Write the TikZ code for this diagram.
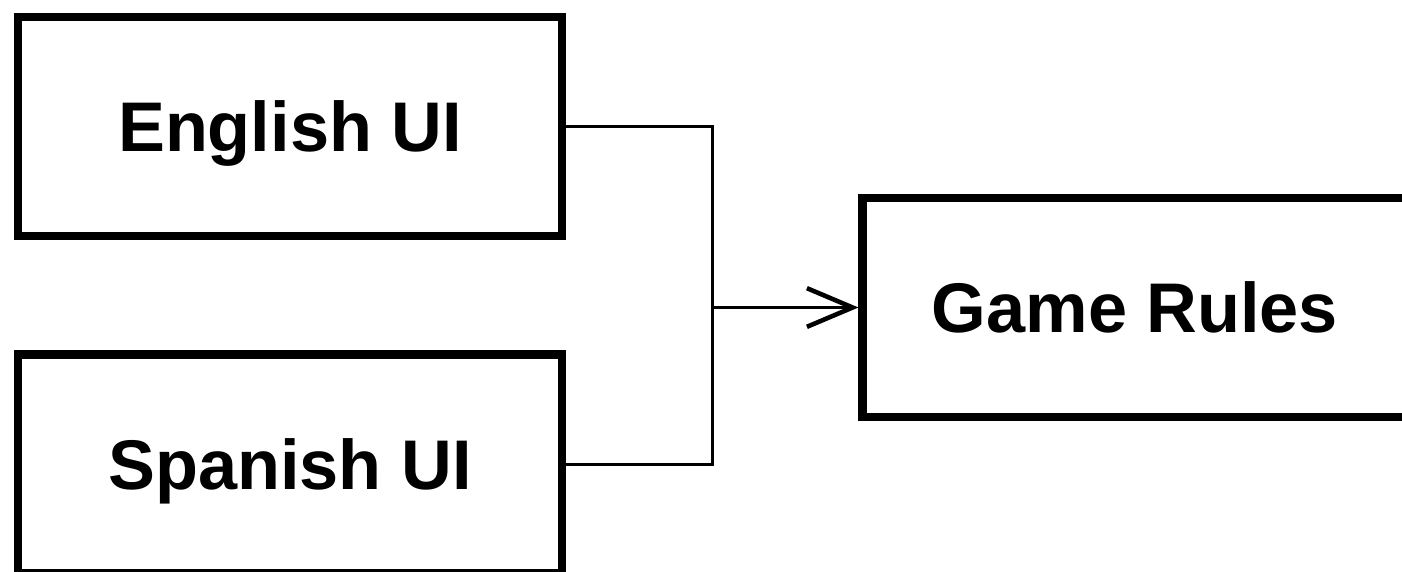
\documentclass[tikz,border=0pt]{standalone}
\usepackage{fontspec}
\setmainfont{Liberation Sans}
\usepackage{tikz}
\usetikzlibrary{arrows.meta,positioning,calc}
\tikzstyle{uibox}=[rectangle,minimum width=5.44cm,minimum height=2.19cm,
  text centered,draw=black,line width=2.55pt,fill=white,text depth=0pt,
  font=\fontsize{20}{24}\selectfont\bfseries]
\tikzstyle{link}=[line width=1.1pt,color=black]
\tikzstyle{arrow}=[-{Straight Barb[length=13pt,width=11pt,line width=1.3pt]},line width=1.1pt,color=black]

\begin{document}
\begin{tikzpicture}

  % Cadre
  \useasboundingbox (-2.90,1.265) rectangle (11.12,-4.445);
  \clip (-2.90,1.265) rectangle (11.12,-4.445);

  % Interfaces
  \node[uibox] (english) {English UI};
  \node[uibox, below=1.10cm of english] (spanish) {Spanish UI};

  % Regles
  \node[uibox, right=2.92cm of english, yshift=-1.81cm] (rules) {Game Rules};

  % Liens
  \coordinate (bend) at ($(english.east)!0.5!(english.east -| rules.west)$);
  \draw[link] (english.east) -| (bend |- spanish.east) -- (spanish.east);
  \draw[arrow] (bend |- rules.west) -- (rules.west);

\end{tikzpicture}
\end{document}
